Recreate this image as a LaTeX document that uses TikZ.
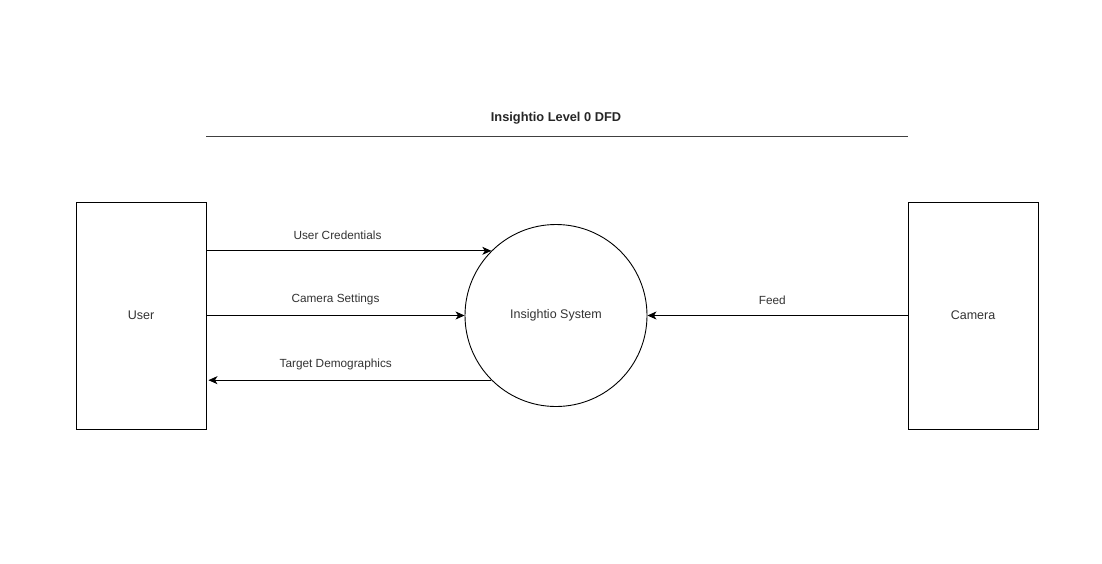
\documentclass[tikz,border=0pt]{standalone}
\usepackage{fontspec}
\setmainfont{Liberation Sans}
\usetikzlibrary{arrows.meta}
\begin{document}
\begin{tikzpicture}[x=1pt,y=-1pt,
  entity/.style={draw, line width=0.9pt, minimum width=130pt, minimum height=227pt, inner sep=0pt, font=\fontsize{12.5}{14}\selectfont, text=black!80},
  proc/.style={draw, circle, line width=0.9pt, minimum size=182pt, inner sep=0pt, font=\fontsize{12.5}{14}\selectfont, text=black!80},
  flow/.style={line width=0.9pt, -{Stealth[length=9pt,width=8pt,inset=2.5pt]}},
  lbl/.style={font=\fontsize{11.8}{13}\selectfont, text=black!80, inner sep=0pt}]
\useasboundingbox (0,0) rectangle (1102,563);
\fill[white] (0,0) rectangle (1102,563);
\node[font=\bfseries\fontsize{12.8}{14}\selectfont, text=black!85] (title) at (556,118) {Insightio Level 0 DFD};
\coordinate (tl) at (206,136.5);
\coordinate (tr) at (908,136.5);
\draw[line width=1.4pt, black!75] (tl) -- (tr);
\node[entity] (user) at (141,315.5) {User};
\node[entity] (cam) at (973,315.5) {Camera};
\node[proc] (sys) at (556,315.5) {Insightio System};
\draw[flow] (user.east |- sys.135) -- (sys.135) node[lbl, pos=0.46, above=11pt] {User Credentials};
\draw[flow] (user.east |- sys.west) -- (sys.west) node[lbl, pos=0.5, above=10pt] {Camera Settings};
\draw[flow] (sys.225) -- ([xshift=2pt]user.east |- sys.225) node[lbl, pos=0.55, above=10pt] {Target Demographics};
\draw[flow] (cam.west |- sys.east) -- (sys.east) node[lbl, pos=0.52, above=10pt] {Feed};
\end{tikzpicture}
\end{document}
